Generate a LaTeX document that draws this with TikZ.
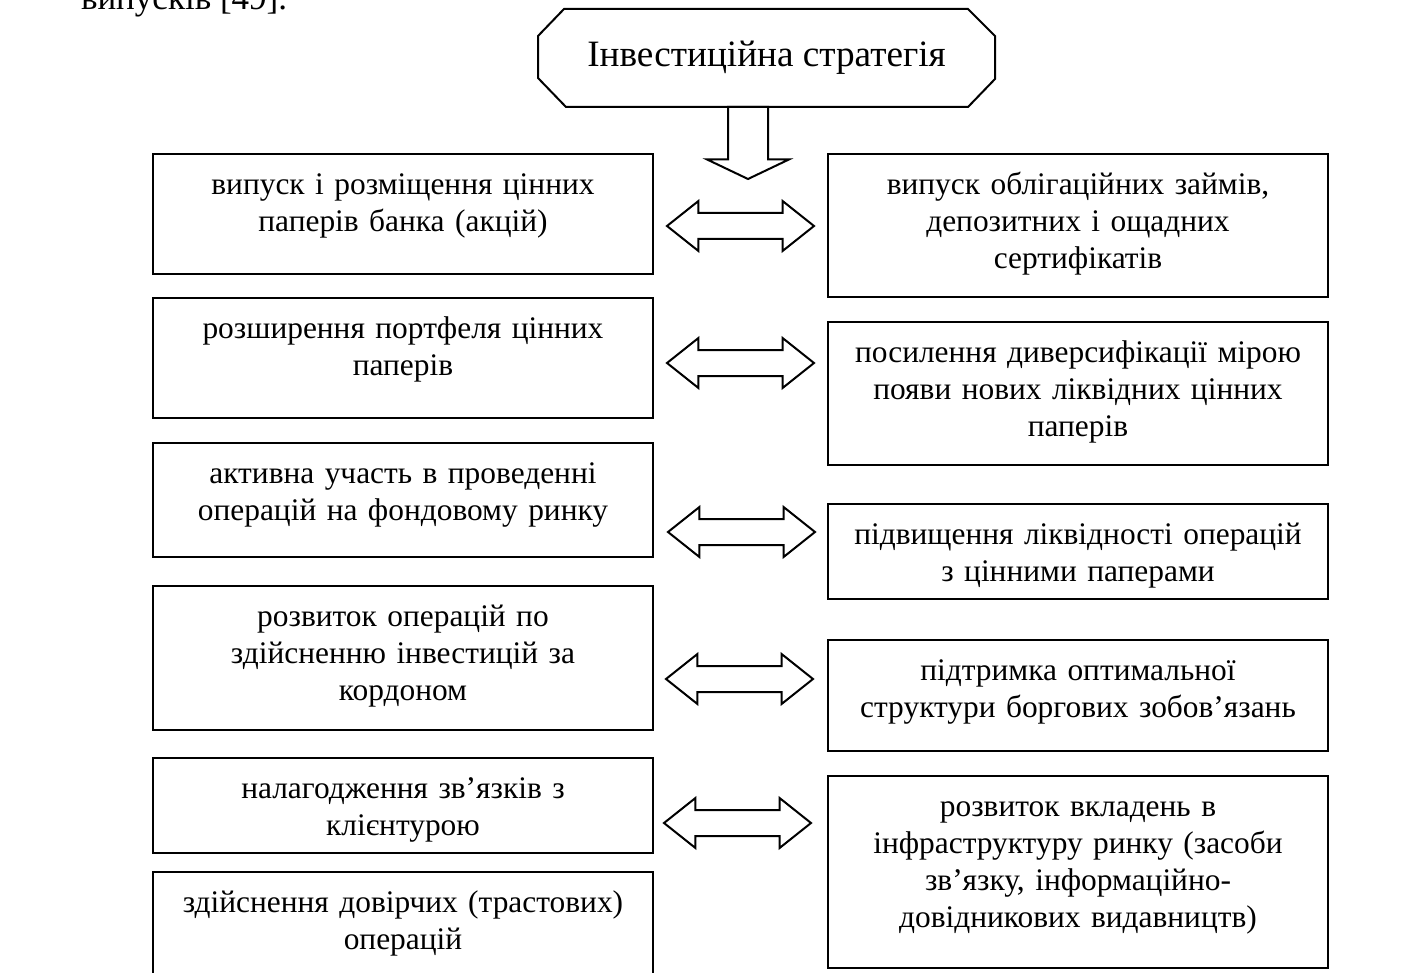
\documentclass[tikz,border=0pt]{standalone}
\usepackage{fontspec}
\setmainfont{Liberation Serif}
\usetikzlibrary{positioning,shapes.arrows}

\begin{document}
\begin{tikzpicture}[x=0.5pt, y=-0.5pt, line width=1pt,
        node distance=12pt,
        stratbox/.style={minimum width=227.5pt, minimum height=48pt, inner sep=0pt, font=\fontsize{18.6}{22}\selectfont},
        blk/.style={draw, fill=white, minimum width=250pt, inner sep=0pt, outer sep=0pt},
        txt/.style={align=center, text width=248pt, inner sep=0pt, outer sep=0pt, font=\fontsize{15.7}{18.5}\selectfont, execute at begin node=\strut},
        darrow/.style={double arrow, draw, fill=white, minimum height=73.5pt, inner xsep=0pt, inner ysep=6pt, double arrow head extend=6pt, double arrow tip angle=77},
        downarrow/.style={single arrow, draw, fill=white, shape border rotate=270, minimum height=36pt, inner sep=9.5pt, outer sep=0pt, single arrow head extend=10.5pt, single arrow tip angle=129}]
        \useasboundingbox (0,0) rectangle (1403,973);

        \node[anchor=base west, font=\fontsize{17.5}{18.5}\selectfont, inner sep=0pt] (prev) at (80,10) {випусків [49].};

        \node[stratbox] (strat) at (766.5,58) {Інвестиційна стратегія};
        \draw[line join=miter] ([xshift=13pt]strat.north west) -- ([xshift=-13.5pt]strat.north east)
            -- ([yshift=-13.5pt]strat.north east) -- ([yshift=14pt]strat.south east)
            -- ([xshift=-13.5pt]strat.south east) -- ([xshift=14pt]strat.south west)
            -- ([yshift=14.5pt]strat.south west) -- ([yshift=-13.5pt]strat.north west) -- cycle;
        \node[downarrow, anchor=tail] (down) at ([xshift=-9.25pt]strat.south) {};

        % left column
        \node[blk, anchor=north west, minimum height=60pt] (l1) at (153,154) {};
        \node[blk, below=12pt of l1, minimum height=60pt] (l2) {};
        \node[blk, below=12.5pt of l2, minimum height=57pt] (l3) {};
        \node[blk, below=14.5pt of l3, minimum height=72pt] (l4) {};
        \node[blk, below=14pt of l4, minimum height=47.5pt] (l5) {};
        \node[blk, below=9.5pt of l5, minimum height=60pt] (l6) {};

        % right column
        \node[blk, anchor=north west, minimum height=71.5pt] (r1) at (828,154) {};
        \node[blk, below=12.5pt of r1, minimum height=71.5pt] (r2) {};
        \node[blk, below=19.5pt of r2, minimum height=47.5pt] (r3) {};
        \node[blk, below=20.5pt of r3, minimum height=55.5pt] (r4) {};
        \node[blk, below=12.5pt of r4, minimum height=96pt] (r5) {};

        \node[txt, below=7.3pt of l1.north] (l1t) {випуск і розміщення цінних\\паперів банка (акцій)};
        \node[txt, below=7.3pt of l2.north] (l2t) {розширення портфеля цінних\\паперів};
        \node[txt, below=7.3pt of l3.north] (l3t) {активна участь в проведенні\\операцій на фондовому ринку};
        \node[txt, below=7.3pt of l4.north] (l4t) {розвиток операцій по\\здійсненню інвестицій за\\кордоном};
        \node[txt, below=7.3pt of l5.north] (l5t) {налагодження зв’язків з\\клієнтурою};
        \node[txt, below=7.3pt of l6.north] (l6t) {здійснення довірчих (трастових)\\операцій};

        \node[txt, below=7.3pt of r1.north] (r1t) {випуск облігаційних займів,\\депозитних і ощадних\\сертифікатів};
        \node[txt, below=7.3pt of r2.north] (r2t) {посилення диверсифікації мірою\\появи нових ліквідних цінних\\паперів};
        \node[txt, below=7.3pt of r3.north] (r3t) {підвищення ліквідності операцій\\з цінними паперами};
        \node[txt, below=7.3pt of r4.north] (r4t) {підтримка оптимальної\\структури боргових зобов’язань};
        \node[txt, below=7.3pt of r5.north] (r5t) {розвиток вкладень в\\інфраструктуру ринку (засоби\\зв’язку, інформаційно-\\довідникових видавництв)};

        % two-way links
        \node[darrow] (a1) at (740.5,226) {};
        \node[darrow] (a2) at (740.5,363) {};
        \node[darrow] (a3) at (741.5,532) {};
        \node[darrow] (a4) at (739.5,679) {};
        \node[darrow] (a5) at (737.5,823) {};
\end{tikzpicture}
\end{document}
